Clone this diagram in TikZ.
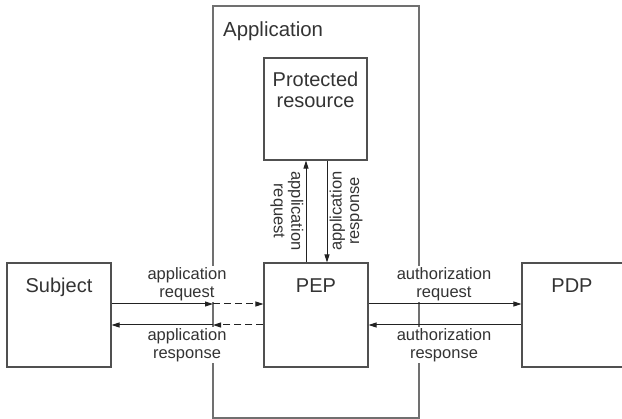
\documentclass[tikz,border=0pt]{standalone}
\usepackage{fontspec}
\setmainfont{Liberation Sans}
\usetikzlibrary{arrows.meta}
\definecolor{ink}{HTML}{333333}
\definecolor{frame}{HTML}{505050}
\definecolor{appframe}{HTML}{707070}
\definecolor{wire}{HTML}{222222}
\begin{document}
\begin{tikzpicture}[x=1pt,y=-1pt,
  box/.style={draw=frame,line width=1.1pt,inner sep=0pt,minimum width=104pt,minimum height=104pt},
  title/.style={text=ink,inner sep=0pt,font=\fontsize{20}{21}\selectfont,anchor=base},
  msg/.style={text=ink,inner sep=2pt,align=center,font=\fontsize{16.5}{17.5}\selectfont},
  cover/.style={msg,fill=white},
  flow/.style={draw=wire,line width=1pt,-{Triangle[length=8pt,width=5pt]}},
  dflow/.style={flow,dash pattern=on 7pt off 4pt}]
\useasboundingbox (0,0) rectangle (622,419);
\clip (0,0) rectangle (622,419);

% application boundary
\node[draw=appframe,line width=1.3pt,inner sep=0pt,minimum width=206pt,minimum height=412pt] (App) at (316,212) {};
\node[text=ink,inner sep=0pt,font=\fontsize{20.4}{22}\selectfont,anchor=base west] (AppLbl) at (223,37) {Application};

% components
\node[box] (Subj) at (59,315) {};
\node[box] (PEP) at (316,315) {};
\node[box] (PDP) at (574,315) {};
\node[box,minimum width=103pt,minimum height=102pt] (PR) at (315.5,109) {};

\node[title] (SubjLbl) at (59,293) {Subject};
\node[title] (PEPLbl) at (316,293) {PEP};
\node[title] (PDPLbl) at (572,293) {PDP};
\node[text=ink,inner sep=0pt,align=center,font=\fontsize{20}{21}\selectfont] (PRLbl) at (315.5,90) {Protected\\resource};

% message labels (white backing hides the boundary line)
\node[cover] (aReq) at (187,284) {application\\request};
\node[cover] (aResp) at (187,345) {application\\response};
\node[cover] (zReq) at (444,284) {authorization\\request};
\node[cover] (zResp) at (444,345) {authorization\\response};
\node[msg,rotate=-90] (vReq) at (287,211) {application\\request};
\node[msg,rotate=90] (vResp) at (346,211) {application\\response};

% boundary crossing points and lanes
\coordinate (inReq) at (213,304);
\coordinate (inResp) at (213,325);
\coordinate (lnReq) at (419,304);
\coordinate (lnResp) at (419,325);
\coordinate (upX) at (306,0);
\coordinate (dnX) at (327,0);

% subject <-> PEP
\draw[flow] (Subj.east |- inReq) -- (inReq);
\draw[dflow] (inReq) -- (PEP.west |- inReq);
\draw[dflow] (PEP.west |- inResp) -- (inResp);
\draw[flow] (inResp) -- (Subj.east |- inResp);

% PEP <-> PDP
\draw[flow] (PEP.east |- lnReq) -- (PDP.west |- lnReq);
\draw[flow] (PDP.west |- lnResp) -- (PEP.east |- lnResp);

% PEP <-> protected resource
\draw[flow] (PEP.north -| upX) -- (PR.south -| upX);
\draw[flow] (PR.south -| dnX) -- (PEP.north -| dnX);
\end{tikzpicture}
\end{document}
